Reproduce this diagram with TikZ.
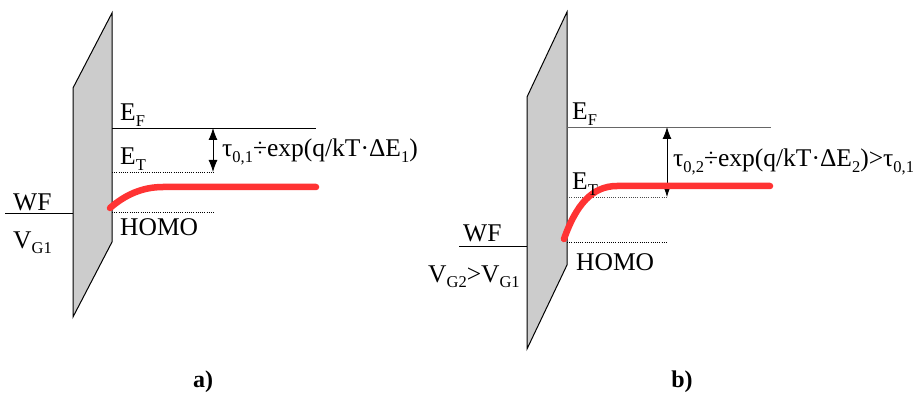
\documentclass[tikz,border=0pt]{standalone}
\usepackage{fontspec}
\setmainfont{Liberation Serif}
\usetikzlibrary{arrows.meta}
\newcommand{\sbs}[1]{\raisebox{-0.22em}{\fontsize{16.5}{18}\selectfont #1}}
\begin{document}
\begin{tikzpicture}[x=1pt,y=-1pt,
  plate/.style={draw=black,line width=1pt,fill=black!20},
  level/.style={line width=0.9pt},
  dotlev/.style={line width=0.8pt,dash pattern=on 1pt off 1.2pt},
  band/.style={draw={rgb,255:red,255;green,51;blue,51},line width=6.5pt,line cap=round},
  gap/.style={line width=0.9pt,{Latex[length=12pt,width=9pt]}-{Latex[length=12pt,width=9pt]}},
  lbl/.style={anchor=base west,inner sep=0pt,font=\fontsize{25.5}{30}\selectfont},
  panellbl/.style={anchor=base,inner sep=0pt,font=\fontsize{24}{28}\selectfont\bfseries}]
\useasboundingbox (0,0) rectangle (914,393);
% ---------- panel a ----------
\draw[plate] (73,88) -- (112,13) -- (112,242) -- (73,317) -- cycle;
\coordinate (aEFl) at (112,128); \coordinate (aEFr) at (316,128);
\coordinate (aETl) at (112,172); \coordinate (aETr) at (214,172);
\coordinate (aHl) at (112,212); \coordinate (aHr) at (214,212);
\coordinate (aWFl) at (5,213); \coordinate (aWFr) at (73,213);
\coordinate (aAt) at (213,128); \coordinate (aAb) at (213,172);
\coordinate (aB0) at (110,208); \coordinate (aB1) at (163,187); \coordinate (aB2) at (316,187);
\draw[level] (aEFl) -- (aEFr);
\draw[dotlev] (aETl) -- (aETr);
\draw[dotlev] (aHl) -- (aHr);
\draw[level] (aWFl) -- (aWFr);
\draw[gap] (aAt) -- (aAb);
\draw[band] (aB0) .. controls (125,195) and (142,187) .. (aB1) -- (aB2);
\node[lbl] (aEF) at (120,121) {E\sbs{F}};
\node[lbl] (aET) at (120,165) {E\sbs{T}};
\node[lbl] (atau) at (222,157) {τ\sbs{0,1}÷exp(q/kT·ΔE\sbs{1})};
\node[lbl] (aHOMO) at (120,236) {HOMO};
\node[lbl] (aWF) at (13,211) {WF};
\node[lbl] (aVG) at (13,248) {V\sbs{G1}};
\node[panellbl] (capa) at (203,387) {a)};
% ---------- panel b ----------
\draw[plate] (527,97) -- (567,12) -- (567,265) -- (527,349) -- cycle;
\coordinate (bEFl) at (567,127); \coordinate (bEFr) at (771,127);
\coordinate (bETl) at (567,197); \coordinate (bETr) at (668,197);
\coordinate (bHl) at (567,242); \coordinate (bHr) at (668,242);
\coordinate (bWFl) at (459,246); \coordinate (bWFr) at (527,246);
\coordinate (bAt) at (667,127); \coordinate (bAb) at (667,197);
\coordinate (bB0) at (564,239); \coordinate (bB1) at (617,186); \coordinate (bB2) at (770,186);
\draw[level,draw=black!60] (bEFl) -- (bEFr);
\draw[dotlev,draw=black!70] (bETl) -- (bETr);
\draw[dotlev] (bHl) -- (bHr);
\draw[level] (bWFl) -- (bWFr);
\draw[gap] (bAt) -- (bAb);
\draw[band] (bB0) .. controls (576,205) and (592,186) .. (bB1) -- (bB2);
\node[lbl] (bEF) at (572,120) {E\sbs{F}};
\node[lbl] (bET) at (572,190) {E\sbs{T}};
\node[lbl] (btau) at (673,167) {τ\sbs{0,2}÷exp(q/kT·ΔE\sbs{2})>τ\sbs{0,1}};
\node[lbl] (bHOMO) at (576,270) {HOMO};
\node[lbl] (bWF) at (463,241) {WF};
\node[lbl] (bVG) at (428,282) {V\sbs{G2}>V\sbs{G1}};
\node[panellbl] (capb) at (682,387) {b)};
\end{tikzpicture}
\end{document}
